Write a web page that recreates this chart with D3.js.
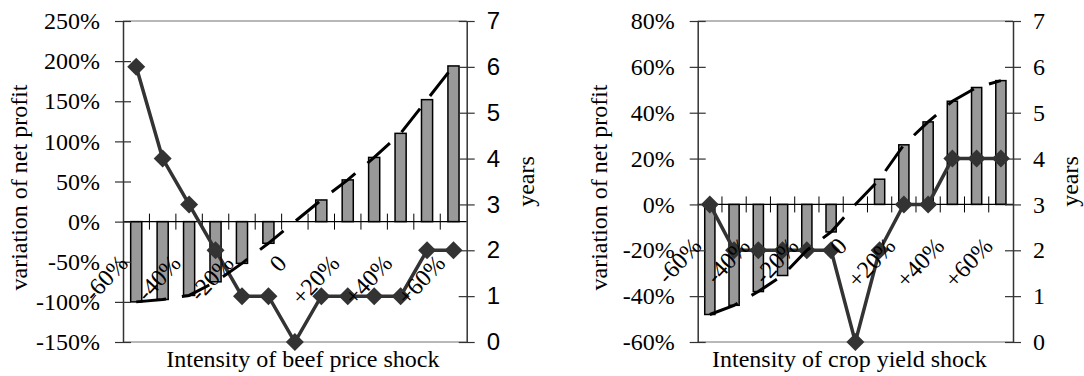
<!DOCTYPE html>
<html><head><meta charset="utf-8">
<script src="https://cdn.jsdelivr.net/npm/d3@7"></script>
<style>body{margin:0;background:#fff} svg{display:block}</style>
</head><body>
<svg id="c" width="1084" height="376"></svg>
<script>
// ---- data ----
const categories = ["-60%","-50%","-40%","-30%","-20%","-10%","0","+10%","+20%","+30%","+40%","+50%","+60%"];
const shownLabels = ["-60%","","-40%","","-20%","","0","","+20%","","+40%","","+60%"];
const beefProfit = [-100,-97,-92,-75,-52,-27,0,27,52,80,110,152,194];
const beefYears = [6,4,3,2,1,1,0,1,1,1,1,2,2];
const cropProfit = [-48,-44,-38,-31,-20,-12,0,11,26,36,45,51,54];
const cropYears = [3,2,2,2,2,2,0,2,3,3,4,4,4];
const beefProfitTicks = [-150,-100,-50,0,50,100,150,200,250];
const cropProfitTicks = [-60,-40,-20,0,20,40,60,80];
const yearTicks = [0,1,2,3,4,5,6,7];
const beefTitle = "Intensity of beef price shock";
const cropTitle = "Intensity of crop yield shock";
const profitTitle = "variation of net profit";
const yearsTitle = "years";

const svg = d3.select("#c");
const SERIF = "'Liberation Serif','Times New Roman',serif";
const SANS = "'Liberation Sans',Arial,sans-serif";
const FS = 24;
const TOP = 21, BOT = 342;

function chart(cfg){
  const g = svg.append("g");
  const x = d3.scaleBand().domain(categories).range([cfg.left, cfg.right]).padding(0);
  const xc = i => x(categories[i]) + x.bandwidth()/2;
  const y = d3.scaleLinear().domain(cfg.pDomain).range([BOT, TOP]);
  const y2 = d3.scaleLinear().domain([0,7]).range([BOT, TOP]);
  const y0 = y(0);

  // plot border top/bottom
  [TOP, BOT].forEach(v => g.append("line").attr("x1",cfg.left).attr("x2",cfg.right)
    .attr("y1",v).attr("y2",v).attr("stroke","#a0a0a0").attr("stroke-width",1.5));

  // bars
  const bw = x.bandwidth()*0.42;
  g.append("g").selectAll("rect").data(cfg.profit.map((d,i)=>({d,i})).filter(o=>o.d!==0)).join("rect")
    .attr("x", o => xc(o.i) - bw/2)
    .attr("y", o => y(Math.max(0,o.d)))
    .attr("width", bw)
    .attr("height", o => Math.abs(y(o.d) - y0))
    .attr("fill","#999999").attr("stroke","#000").attr("stroke-width",1.5);

  // category axis at zero
  g.append("line").attr("x1",cfg.left).attr("x2",cfg.right).attr("y1",y0).attr("y2",y0)
    .attr("stroke","#000").attr("stroke-width",1.3);
  g.append("g").selectAll("line").data(d3.range(1, categories.length)).join("line")
    .attr("x1", i => x(categories[i])).attr("x2", i => x(categories[i]))
    .attr("y1", y0-8).attr("y2", y0+8).attr("stroke","#000").attr("stroke-width",1);

  // left axis
  const la = g.append("g").attr("transform",`translate(${cfg.left},0)`)
    .call(d3.axisLeft(y).tickValues(cfg.pTicks).tickFormat(d => d + "%").tickSizeOuter(0));
  la.select(".domain").attr("stroke","#333").attr("stroke-width",1.5);
  la.selectAll(".tick line").attr("x1",-8).attr("x2",8).attr("stroke","#333").attr("stroke-width",1.2);
  la.selectAll(".tick text").attr("x",-23).attr("font-family",SERIF).attr("font-size",FS).attr("fill","#000");

  // right axis
  const ra = g.append("g").attr("transform",`translate(${cfg.right},0)`)
    .call(d3.axisRight(y2).tickValues(yearTicks).tickFormat(d3.format("d")).tickSizeOuter(0));
  ra.select(".domain").attr("stroke","#333").attr("stroke-width",1.5);
  ra.selectAll(".tick line").attr("x1",-8).attr("x2",8).attr("stroke","#333").attr("stroke-width",1.2);
  ra.selectAll(".tick text").attr("x",20).attr("font-family",cfg.rightFont).attr("font-size",cfg.rightFS).attr("fill","#000");

  // years line + diamonds
  g.append("path").datum(cfg.years)
    .attr("d", d3.line().x((d,i)=>xc(i)).y(d=>y2(d)))
    .attr("fill","none").attr("stroke","#333").attr("stroke-width",3.5);
  g.append("g").selectAll("path").data(cfg.years).join("path")
    .attr("transform",(d,i)=>`translate(${xc(i)},${y2(d)})`)
    .attr("d","M0,-9L9,0L0,9L-9,0Z").attr("fill","#333");

  // dashed profit line
  g.append("path").datum(cfg.profit)
    .attr("d", d3.line().x((d,i)=>xc(i)).y(d=>y(d)))
    .attr("fill","none").attr("stroke","#000").attr("stroke-width",3)
    .attr("stroke-dasharray","30,16");

  // category labels
  g.append("g").selectAll("text").data(shownLabels.map((t,i)=>({t,i})).filter(o=>o.t)).join("text")
    .attr("transform", o => `translate(${xc(o.i)-13},${y0+37}) rotate(-47)`)
    .attr("text-anchor","end").attr("dy","0.35em")
    .attr("font-family",SERIF).attr("font-size",FS).attr("fill","#000")
    .text(o => o.t);

  // titles
  g.append("text").attr("x",(cfg.left+cfg.right)/2 + cfg.xtShift).attr("y",367).attr("text-anchor","middle")
    .attr("font-family",SERIF).attr("font-size",FS).text(cfg.xTitle);
  g.append("text").attr("transform",`translate(${cfg.ytX},${(TOP+BOT)/2 + 6}) rotate(-90)`)
    .attr("text-anchor","middle").attr("dy","0.35em")
    .attr("font-family",SERIF).attr("font-size",FS).text(profitTitle);
  g.append("text").attr("transform",`translate(${cfg.y2tX},${(TOP+BOT)/2}) rotate(-90)`)
    .attr("text-anchor","middle").attr("dy","0.35em")
    .attr("font-family",SERIF).attr("font-size",FS).text(yearsTitle);
}

chart({left:123, right:466.7, pDomain:[-150,250], pTicks:beefProfitTicks, profit:beefProfit, years:beefYears,
  rightFont:SANS, rightFS:24, xTitle:beefTitle, xtShift:8, ytX:19, y2tX:526});
chart({left:697.7, right:1013, pDomain:[-60,80], pTicks:cropProfitTicks, profit:cropProfit, years:cropYears,
  rightFont:SERIF, rightFS:FS, xTitle:cropTitle, xtShift:-6, ytX:599, y2tX:1070});
</script>
</body></html>
